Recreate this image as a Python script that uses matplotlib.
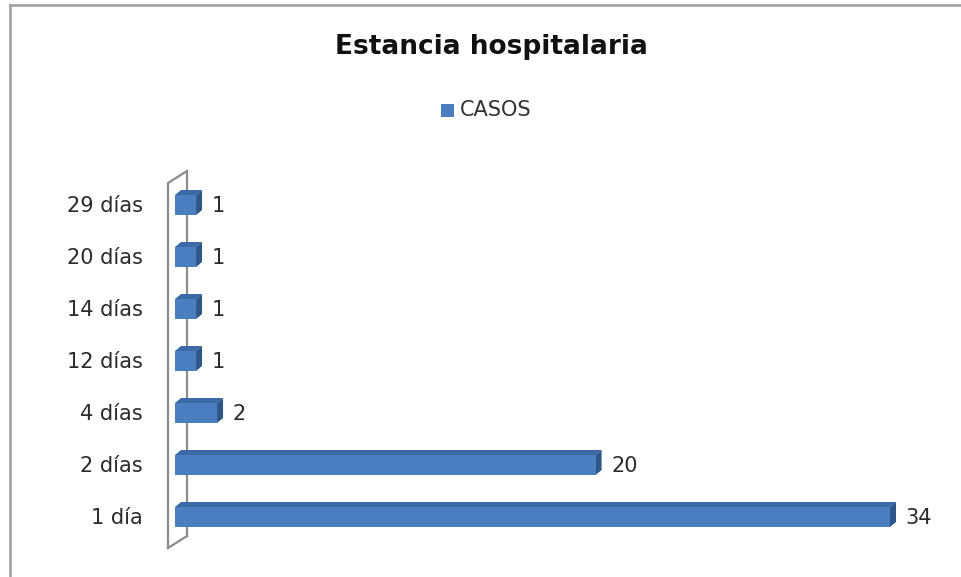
import matplotlib
matplotlib.use("Agg")
import matplotlib.pyplot as plt
from matplotlib.patches import Polygon, Rectangle
from matplotlib.lines import Line2D

# data
categories = ["1 día", "2 días", "4 días", "12 días", "14 días", "20 días", "29 días"]
casos = [34, 20, 2, 1, 1, 1, 1]

W, H, dpi = 961, 577, 100
px_per_unit = 715 / 34.0
x0_px = 175
y0_px = 60          # px from bottom for first category
step_px = 52

front_col = "#4A7EC0"
top_col = "#3B69A6"
side_col = "#2E5689"

fig = plt.figure(figsize=(W / dpi, H / dpi), dpi=dpi)
ax = fig.add_axes([0, 0, 1, 1])
ax.set_xlim(-x0_px / px_per_unit, (W - x0_px) / px_per_unit)
ax.set_ylim(-y0_px / step_px, (H - y0_px) / step_px)
ax.axis("off")

# depth of 3d effect in data units
dx = 6 / px_per_unit
dy = 5 / step_px
hh = 10 / step_px

# wall
wdx = 19 / px_per_unit
wdy = 12 / step_px
wx = -7 / px_per_unit
wy_bot = (577 - 548 - y0_px) / step_px
wy_top = (577 - 183 - y0_px) / step_px
wall_kw = dict(color="#8c8c8c", lw=1.6, zorder=1)
ax.plot([wx + wdx, wx + wdx], [wy_bot + wdy, wy_top + wdy], **wall_kw)
ax.plot([wx, wx, wx + wdx], [wy_bot, wy_top, wy_top + wdy], **wall_kw)
ax.plot([wx, wx + wdx], [wy_bot, wy_bot + wdy], **wall_kw)

for i, v in enumerate(casos):
    y = i
    ax.add_patch(Polygon([(0, y + hh), (v, y + hh), (v + dx, y + hh + dy), (dx, y + hh + dy)],
                         closed=True, fc=top_col, ec="none", zorder=3))
    ax.add_patch(Polygon([(v, y - hh), (v + dx, y - hh + dy), (v + dx, y + hh + dy), (v, y + hh)],
                         closed=True, fc=side_col, ec="none", zorder=3))
    ax.add_patch(Rectangle((0, y - hh), v, 2 * hh, fc=front_col, ec="none", zorder=4))
    ax.annotate(str(v), (v + dx, y), xytext=(7, -1), textcoords="offset points",
                ha="left", va="center", fontsize=15, color="#2b2b2b")
    ax.annotate(categories[i], (wx, y), xytext=(-18, -1), textcoords="offset points",
                ha="right", va="center", fontsize=15, color="#2b2b2b")

fig.text(491 / W, 1 - 47 / H, "Estancia hospitalaria", ha="center", va="center",
         fontsize=19, fontweight="bold", color="#111111")
fig.patches.append(Rectangle((441 / W, 1 - 117 / H), 13 / W, 13 / H,
                             transform=fig.transFigure, fc=front_col, ec="none"))
fig.text(460 / W, 1 - 110 / H, "CASOS", ha="left", va="center", fontsize=15, color="#333333")

# outer border
fig.add_artist(Line2D([10 / W, 10 / W], [0, 1 - 5 / H], transform=fig.transFigure,
                      color="#a6a6a6", lw=2))
fig.add_artist(Line2D([10 / W, 1], [1 - 5 / H, 1 - 5 / H], transform=fig.transFigure,
                      color="#a6a6a6", lw=2))

fig.savefig("out.png", dpi=dpi)
